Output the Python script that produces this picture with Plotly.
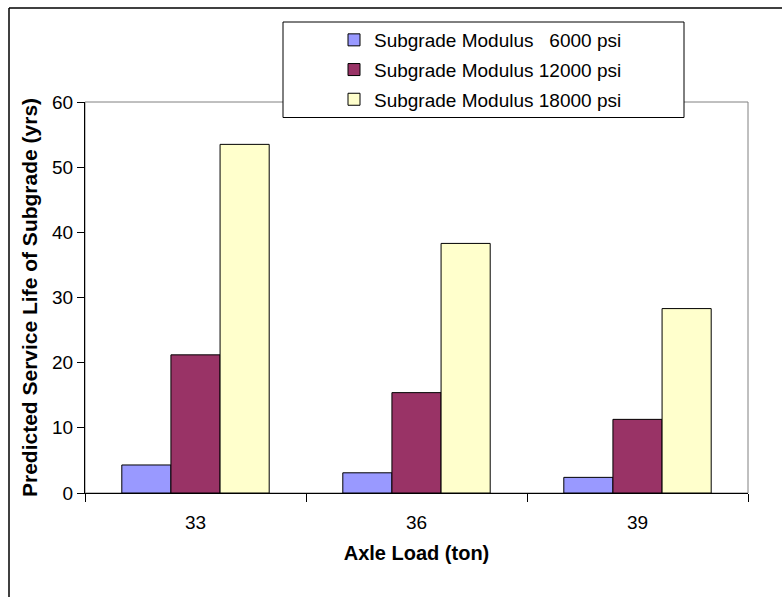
import plotly.graph_objects as go

categories = ["33", "36", "39"]
series_names = [
    "Subgrade Modulus\u00a0\u00a0\u00a06000 psi",
    "Subgrade Modulus 12000 psi",
    "Subgrade Modulus 18000 psi",
]
modulus_6000 = [4.3, 3.1, 2.4]
modulus_12000 = [21.2, 15.4, 11.3]
modulus_18000 = [53.5, 38.3, 28.3]
colors = ["#9999FF", "#993366", "#FFFFCC"]

fig = go.Figure()
for i, (name, vals) in enumerate(zip(series_names, [modulus_6000, modulus_12000, modulus_18000])):
    fig.add_trace(go.Bar(
        x=categories, y=vals, name=name, legendgroup=f"g{i}",
        marker=dict(color=colors[i], line=dict(color="black", width=1)),
    ))

W, H = 782, 597
ml, mr, mt, mb = 85, 34, 102, 104
pw, ph = W - ml - mr, H - mt - mb

def px_x(x):
    return (x - ml) / pw

def px_y(y):
    return (H - mb - y) / ph

fig.update_layout(
    width=W, height=H,
    margin=dict(l=ml, r=mr, t=mt, b=mb, autoexpand=False),
    paper_bgcolor="white", plot_bgcolor="white",
    barmode="group", bargap=0.333, bargroupgap=0,
    font=dict(family="Arial, Liberation Sans, sans-serif", color="black", size=19),
    showlegend=True,
    legend=dict(
        x=px_x(334), y=px_y(21), xanchor="left", yanchor="top",
        bgcolor="rgba(0,0,0,0)", borderwidth=0,
        font=dict(size=19), traceorder="grouped", tracegroupgap=2,
    ),
    xaxis=dict(
        type="category", tickson="boundaries", ticks="outside", ticklen=8,
        tickcolor="black", showline=True, linecolor="black", linewidth=1,
        showgrid=False, tickfont=dict(size=19), ticklabelstandoff=12,
        title=dict(text="<b>Axle Load (ton)</b>", font=dict(size=20), standoff=14),
    ),
    yaxis=dict(
        range=[0, 60], dtick=10, ticks="outside", ticklen=7, tickcolor="black",
        showline=True, linecolor="black", linewidth=1, showgrid=False,
        tickfont=dict(size=19), zeroline=False,
        title=dict(text="<b>Predicted Service Life of Subgrade (yrs)</b>", font=dict(size=21), standoff=8),
    ),
    shapes=[
        dict(type="rect", xref="paper", yref="paper", x0=0, x1=1, y0=0, y1=1,
             line=dict(color="#808080", width=1), layer="below"),
        dict(type="rect", xref="paper", yref="paper",
             x0=px_x(283), x1=px_x(684), y0=px_y(117.5), y1=px_y(22),
             line=dict(color="black", width=1), fillcolor="white", layer="above"),
        dict(type="line", xref="paper", yref="paper",
             x0=px_x(9), x1=px_x(800), y0=px_y(8), y1=px_y(8),
             line=dict(color="black", width=1.5)),
        dict(type="line", xref="paper", yref="paper",
             x0=px_x(9), x1=px_x(9), y0=px_y(8), y1=px_y(620),
             line=dict(color="black", width=1.5)),
    ],
)

fig.write_html("out.html")
